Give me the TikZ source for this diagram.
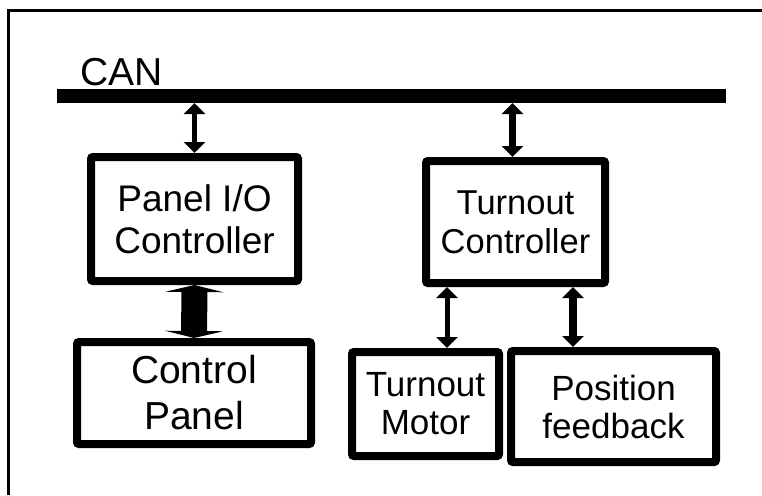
\documentclass[tikz,border=0pt]{standalone}
\usepackage{fontspec}
\setmainfont{Liberation Sans}
\usetikzlibrary{arrows.meta,calc}

\tikzset{
  blk/.style={draw, line width=8pt, rounded corners=2pt, align=center, inner sep=0pt},
  biarrow/.style={line width=5pt, {Triangle[width=21pt,length=11pt]}-{Triangle[width=21pt,length=11pt]}},
  fatarrow/.style={line width=26pt, {Triangle[width=58pt,length=7pt]}-{Triangle[width=58pt,length=7pt]}},
}

\begin{document}
\begin{tikzpicture}[x=1pt,y=-1pt]
        \useasboundingbox (0,0) rectangle (762,495);
        % frame
        \draw[line width=3pt] (8,495) -- (8,11) -- (762,11);
        % bus
        \node[fill=black, inner sep=0pt, outer sep=0pt, minimum width=669pt, minimum height=14pt] (can) at (391.5,96) {};
        \node[anchor=base west, inner sep=0pt, font=\fontsize{39pt}{44pt}\selectfont] (canlbl) at (80,85) {CAN};
        % boxes
        \node[blk, minimum width=207pt, minimum height=124pt, font=\fontsize{37pt}{42pt}\selectfont] (pio) at (194.5,219) {Panel I/O\\Controller};
        \node[blk, minimum width=234pt, minimum height=102pt, font=\fontsize{39pt}{46pt}\selectfont] (cp) at (194,393) {Control\\Panel};
        \node[blk, minimum width=179pt, minimum height=122pt, font=\fontsize{34.5pt}{39pt}\selectfont] (tc) at (515.5,222) {Turnout\\Controller};
        \node[blk, minimum width=147pt, minimum height=104pt, font=\fontsize{35pt}{38pt}\selectfont] (tm) at (425.5,404) {Turnout\\Motor};
        \node[blk, minimum width=205pt, minimum height=111pt, font=\fontsize{35pt}{38pt}\selectfont] (pf) at (613.5,406.5) {Position\\feedback};
        % links
        \draw[biarrow] (can.south -| pio.north) -- (pio.north);
        \draw[biarrow, line width=7pt] ([xshift=-3pt]tc.north |- can.south) -- ([xshift=-3pt]tc.north);
        \draw[fatarrow] (pio.south) -- (cp.north);
        \draw[biarrow] ([xshift=25pt]tc.south west) -- ([xshift=25pt]tc.south west |- tm.north);
        \draw[biarrow, line width=8pt] ([xshift=-36pt]tc.south east) -- ([xshift=-36pt]tc.south east |- pf.north);
\end{tikzpicture}
\end{document}
